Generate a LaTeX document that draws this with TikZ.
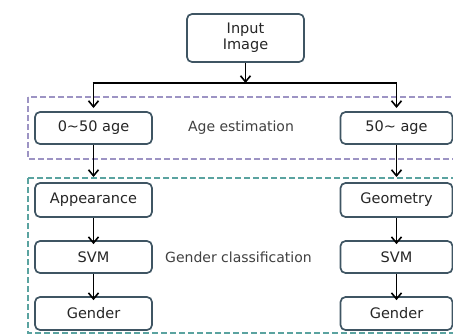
\documentclass[tikz,border=0pt]{standalone}
\usepackage{fontspec}
\setmainfont{DejaVu Sans}
\usetikzlibrary{arrows.meta}
\definecolor{boxline}{HTML}{3F5563}
\definecolor{purpledash}{HTML}{9D94C4}
\definecolor{tealdash}{HTML}{5AA3A0}
\tikzset{
  procbox/.style={draw=boxline, line width=1.7pt, rounded corners=5pt, fill=white,
    font=\fontsize{14.5}{16}\selectfont, align=center, inner sep=0pt, text=black!85},
  flow/.style={draw=black, line width=1.6pt, -{Straight Barb[length=6pt,width=10pt,line width=1.6pt]}},
  plainline/.style={draw=black, line width=1.6pt},
  grouplabel/.style={font=\fontsize{14}{16}\selectfont, text=black!75}
}
\begin{document}
\begin{tikzpicture}[x=1pt,y=-1pt]
\useasboundingbox (0,0) rectangle (453,335);
\begin{scope}
\clip (0,0) rectangle (453,335);
\draw[purpledash, line width=1.5pt, dash pattern=on 6pt off 3pt] (28,97) rectangle (470,159);
\draw[tealdash, line width=1.5pt, dash pattern=on 6pt off 3pt] (28,178) rectangle (470,333);
\end{scope}
\node[procbox, minimum width=117pt, minimum height=48pt] (input) at (245.5,38) {Input\\Image};
\node[procbox, minimum width=117pt, minimum height=32pt] (age1) at (93.5,128) {0\textasciitilde50 age};
\node[procbox, minimum width=112pt, minimum height=32pt] (age2) at (396.5,128) {50\textasciitilde{} age};
\node[procbox, minimum width=117pt, minimum height=34pt] (app) at (93.5,200) {Appearance};
\node[procbox, minimum width=117pt, minimum height=32pt] (svm1) at (93.5,257) {SVM};
\node[procbox, minimum width=117pt, minimum height=33pt] (gen1) at (93.5,313.5) {Gender};
\node[procbox, minimum width=112pt, minimum height=34pt] (geo) at (396.5,200) {Geometry};
\node[procbox, minimum width=112pt, minimum height=32pt] (svm2) at (396.5,257) {SVM};
\node[procbox, minimum width=112pt, minimum height=33pt] (gen2) at (396.5,313.5) {Gender};
\node[grouplabel] (agelab) at (241,128) {Age estimation};
\node[grouplabel] (genlab) at (238.5,257) {Gender classification};
\coordinate (split) at (245.5,83);
\coordinate (splitL) at (93.5,83);
\coordinate (splitR) at (396.5,83);
\coordinate (inL) at (93.5,108);
\coordinate (inR) at (396.5,108);
\coordinate (gL) at (93.5,177);
\coordinate (gR) at (396.5,177);
\draw[flow] (input.south) -- (split);
\draw[plainline] ([xshift=-0.8pt]splitL) -- ([xshift=0.8pt]splitR);
\draw[flow] ([yshift=-0.8pt]splitL) -- (inL);
\draw[flow] ([yshift=-0.8pt]splitR) -- (inR);
\draw[flow] (age1.south) -- (gL);
\draw[flow] (age2.south) -- (gR);
\draw[flow] (app.south) -- ([yshift=-4pt]svm1.north);
\draw[flow] (svm1.south) -- ([yshift=-4pt]gen1.north);
\draw[flow] (geo.south) -- ([yshift=-4pt]svm2.north);
\draw[flow] (svm2.south) -- ([yshift=-4pt]gen2.north);
\end{tikzpicture}
\end{document}
